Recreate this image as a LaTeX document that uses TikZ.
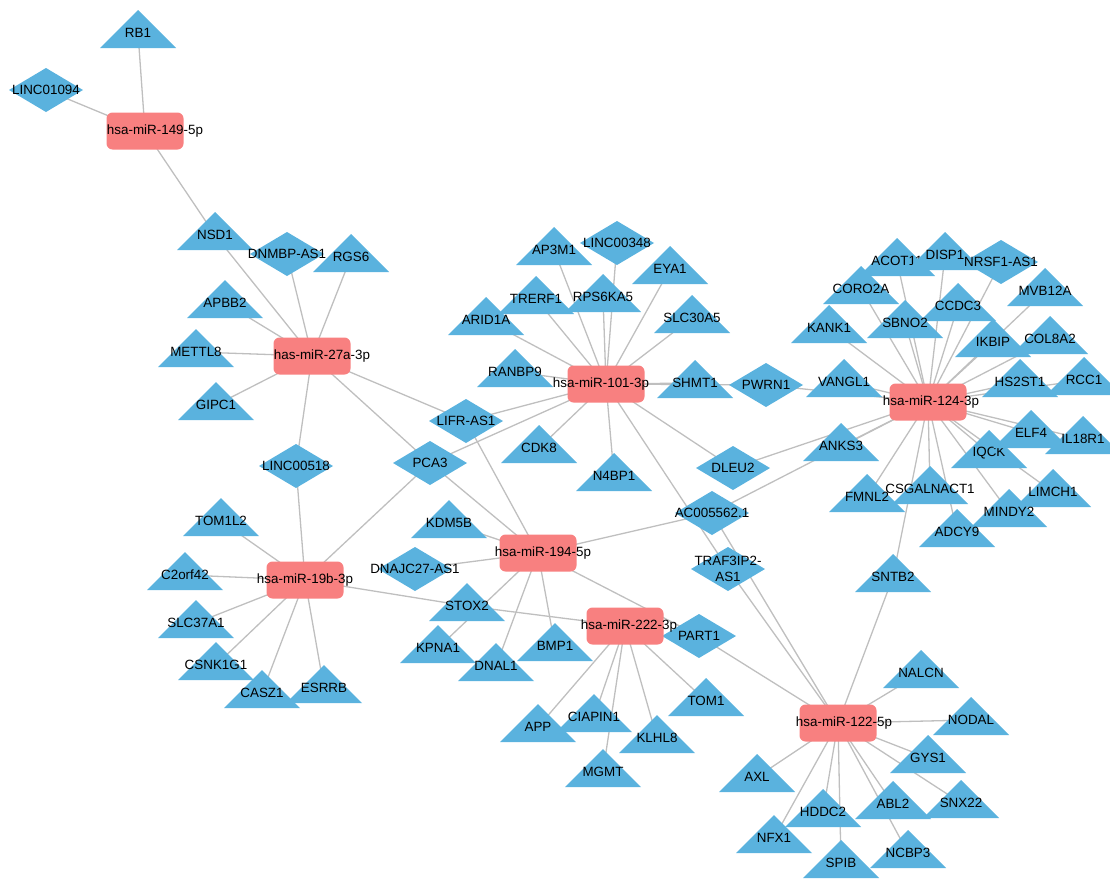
\documentclass[tikz,border=0pt]{standalone}
\usepackage{fontspec}
\setmainfont{Liberation Sans}
\usetikzlibrary{backgrounds}
\definecolor{geneblue}{RGB}{90,178,222}
\definecolor{mirpink}{RGB}{248,128,128}

\begin{document}
\begin{tikzpicture}[x=1pt,y=-1pt,
    font=\fontsize{13.4}{16}\selectfont,
    gene/.style={fill=geneblue},
    txt/.style={inner sep=0pt,align=center,text=black},
    mir/.style={fill=mirpink,rounded corners=6pt,minimum width=77pt,
      minimum height=37pt,inner sep=0pt},
    link/.style={black!25,line width=1.3pt}]
  \useasboundingbox (0,0) rectangle (1110,878);
  % target genes
  \foreach \n/\x/\y/\t in {rb1/138/33/RB1,nsd1/215/235/NSD1,rgs6/351/257/RGS6,
      apbb2/225/303/APBB2,mettl8/196/352/METTL8,gipc1/216/405/GIPC1,
      tom1l2/221/521/TOM1L2,c2orf42/185/575/C2orf42,slc37a1/196/623/SLC37A1,
      csnk1g1/216/665/CSNK1G1,casz1/262/693/CASZ1,esrrb/324/688/ESRRB,
      ap3m1/554/250/AP3M1,eya1/670/269/EYA1,trerf1/536/299/TRERF1,
      rps6ka5/603/297/RPS6KA5,arid1a/486/320/ARID1A,slc30a5/692/318/SLC30A5,
      ranbp9/515/372/RANBP9,shmt1/695/383/SHMT1,cdk8/539/448/CDK8,
      n4bp1/614/476/N4BP1,kdm5b/449/523/KDM5B,stox2/467/606/STOX2,
      kpna1/438/648/KPNA1,dnal1/496/666/DNAL1,bmp1/555/646/BMP1,
      tom1/706/701/TOM1,ciapin1/594/717/CIAPIN1,app/538/727/APP,
      klhl8/657/738/KLHL8,mgmt/603/772/MGMT,axl/757/777/AXL,
      coro2a/861/289/CORO2A,acot11/897/261/ACOT11,disp1/945/255/DISP1,
      mvb12a/1045/291/MVB12A,ccdc3/958/306/CCDC3,sbno2/905/323/SBNO2,
      kank1/829/328/KANK1,ikbip/993/342/IKBIP,col8a2/1050/339/COL8A2,
      vangl1/844/382/VANGL1,hs2st1/1020/382/HS2ST1,rcc1/1084/380/RCC1,
      anks3/841/446/ANKS3,iqck/989/453/IQCK,elf4/1031/433/ELF4,
      il18r1/1083/439/IL18R1,fmnl2/867/497/FMNL2,limch1/1053/492/LIMCH1,
      mindy2/1009/512/MINDY2,csgalnact1/930/489/CSGALNACT1,adcy9/957/532/ADCY9,
      sntb2/893/577/SNTB2,nalcn/921/673/NALCN,nodal/971/720/NODAL,
      gys1/928/758/GYS1,abl2/893/804/ABL2,snx22/961/803/SNX22,
      hddc2/823/812/HDDC2,nfx1/774/838/NFX1,ncbp3/908/853/NCBP3,spib/841/863/SPIB}
    {\fill[gene] (\x-38,\y+15) -- (\x,\y-23) -- (\x+38,\y+15) -- cycle;
     \node[txt] (\n) at (\x,\y) {\t};}
  % lncRNAs
  \foreach \n/\x/\y/\t in {linc01094/46/90/LINC01094,dnmbp/287/254/DNMBP-AS1,
      linc00518/296/466/LINC00518,linc00348/617/243/LINC00348,
      lifr/466/421/LIFR-AS1,pca3/430/463/PCA3,dnajc/415/569/DNAJC27-AS1,
      part1/699/636/PART1,nrsf1/1001/262/NRSF1-AS1,pwrn1/766/385/PWRN1,
      dleu2/733/468/DLEU2,ac0055621/712/513/AC005562.1,
      traf/728/569/{TRAF3IP2-\\AS1}}
    {\fill[gene] (\x-37,\y) -- (\x,\y-22) -- (\x+37,\y) -- (\x,\y+22) -- cycle;
     \node[txt] (\n) at (\x,\y) {\t};}
  % miRNAs
  \foreach \n/\x/\y/\dx/\t in {m149/145/131/10/hsa-miR-149-5p,
      m27a/312/356/10/has-miR-27a-3p,m101/606/384/-5/hsa-miR-101-3p,
      m124/928/402/3/hsa-miR-124-3p,m19b/305/580/0/hsa-miR-19b-3p,
      m194/538/553/5/hsa-miR-194-5p,m222/625/626/4/hsa-miR-222-3p,
      m122/838/723/6/hsa-miR-122-5p}
    {\node[mir,label={[txt,xshift=\dx]center:\t}] (\n) at (\x,\y) {};}
  \begin{scope}[on background layer]
    \foreach \a/\b in {m149/rb1,m149/linc01094,m149/nsd1,
        m27a/nsd1,m27a/dnmbp,m27a/rgs6,m27a/apbb2,m27a/mettl8,m27a/gipc1,
        m27a/linc00518,m27a/lifr,m27a/pca3,
        m19b/linc00518,m19b/pca3,m19b/tom1l2,m19b/c2orf42,m19b/slc37a1,
        m19b/csnk1g1,m19b/casz1,m19b/esrrb,m19b/stox2,m222/stox2,
        m194/pca3,m194/lifr,m194/kdm5b,m194/dnajc,m194/kpna1,m194/dnal1,
        m194/bmp1,m194/ac0055621,m194/part1,
        m222/app,m222/ciapin1,m222/mgmt,m222/klhl8,m222/tom1,
        m101/ap3m1,m101/linc00348,m101/eya1,m101/trerf1,m101/rps6ka5,
        m101/arid1a,m101/slc30a5,m101/ranbp9,m101/shmt1,m101/pwrn1,
        m101/lifr,m101/pca3,m101/cdk8,m101/n4bp1,m101/dleu2,m101/traf,
        m124/pwrn1,m124/vangl1,m124/dleu2,m124/ac0055621,m124/anks3,
        m124/kank1,m124/coro2a,m124/acot11,m124/disp1,m124/sbno2,m124/ccdc3,
        m124/nrsf1,m124/ikbip,m124/mvb12a,m124/col8a2,m124/hs2st1,m124/rcc1,
        m124/elf4,m124/il18r1,m124/iqck,m124/limch1,m124/mindy2,m124/adcy9,
        m124/csgalnact1,m124/fmnl2,m124/sntb2,
        m122/part1,m122/traf,m122/ac0055621,m122/sntb2,m122/nalcn,
        m122/nodal,m122/gys1,m122/snx22,m122/abl2,m122/ncbp3,m122/spib,
        m122/hddc2,m122/nfx1,m122/axl}
      {\draw[link] (\a.center) -- (\b.center);}
  \end{scope}
\end{tikzpicture}
\end{document}
